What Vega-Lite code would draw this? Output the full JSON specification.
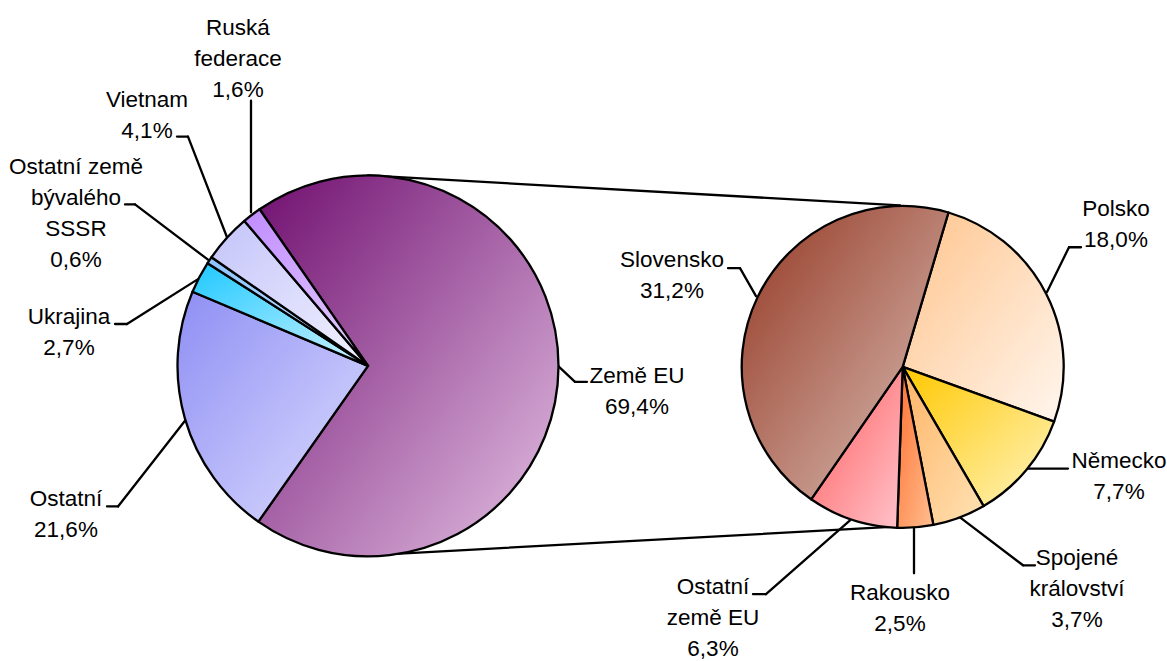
{
  "$schema": "https://vega.github.io/schema/vega-lite/v6.json",
  "width": 1167,
  "height": 661,
  "autosize": {"type": "fit", "contains": "padding"},
  "padding": 0,
  "background": "white",
  "config": {"view": {"stroke": null}},
  "datasets": {
    "celkem": [
      {"zeme": "Země EU", "podil": 69.4},
      {"zeme": "Ostatní", "podil": 21.6},
      {"zeme": "Ukrajina", "podil": 2.7},
      {"zeme": "Ostatní země bývalého SSSR", "podil": 0.6},
      {"zeme": "Vietnam", "podil": 4.1},
      {"zeme": "Ruská federace", "podil": 1.6}
    ],
    "eu": [
      {"zeme": "Polsko", "podil": 18.0},
      {"zeme": "Německo", "podil": 7.7},
      {"zeme": "Spojené království", "podil": 3.7},
      {"zeme": "Rakousko", "podil": 2.5},
      {"zeme": "Ostatní země EU", "podil": 6.3},
      {"zeme": "Slovensko", "podil": 31.2}
    ],
    "cary": [
      {"x": 368, "y": 176, "x2": 900, "y2": 206},
      {"x": 368, "y": 557, "x2": 900, "y2": 528},
      {"x": 251, "y": 101, "x2": 251, "y2": 213},
      {"x": 177, "y": 137, "x2": 188, "y2": 137},
      {"x": 188, "y": 137, "x2": 227, "y2": 238},
      {"x": 125, "y": 205, "x2": 135, "y2": 205},
      {"x": 135, "y": 205, "x2": 210, "y2": 262},
      {"x": 115, "y": 325, "x2": 127, "y2": 325},
      {"x": 127, "y": 325, "x2": 198, "y2": 280},
      {"x": 107, "y": 508, "x2": 118, "y2": 508},
      {"x": 118, "y": 508, "x2": 185, "y2": 422},
      {"x": 558, "y": 367, "x2": 575, "y2": 383},
      {"x": 575, "y": 383, "x2": 587, "y2": 383},
      {"x": 728, "y": 269, "x2": 740, "y2": 269},
      {"x": 740, "y": 269, "x2": 756, "y2": 297},
      {"x": 1081, "y": 248, "x2": 1069, "y2": 248},
      {"x": 1069, "y": 248, "x2": 1047, "y2": 293},
      {"x": 1027, "y": 470, "x2": 1068, "y2": 470},
      {"x": 960, "y": 519, "x2": 1023, "y2": 567},
      {"x": 1023, "y": 567, "x2": 1035, "y2": 567},
      {"x": 914, "y": 528, "x2": 914, "y2": 575},
      {"x": 753, "y": 596, "x2": 766, "y2": 596},
      {"x": 766, "y": 596, "x2": 850, "y2": 522}
    ],
    "popisky": [
      {"text": ["Ruská", "federace", "1,6%"], "x": 238, "y": 35},
      {"text": ["Vietnam", "4,1%"], "x": 147, "y": 107},
      {"text": ["Ostatní země", "bývalého", "SSSR", "0,6%"], "x": 76, "y": 175},
      {"text": ["Ukrajina", "2,7%"], "x": 69, "y": 325},
      {"text": ["Ostatní", "21,6%"], "x": 66, "y": 508},
      {"text": ["Země EU", "69,4%"], "x": 637, "y": 384},
      {"text": ["Slovensko", "31,2%"], "x": 672, "y": 268},
      {"text": ["Polsko", "18,0%"], "x": 1116, "y": 217},
      {"text": ["Německo", "7,7%"], "x": 1119, "y": 469},
      {"text": ["Spojené", "království", "3,7%"], "x": 1077, "y": 567},
      {"text": ["Rakousko", "2,5%"], "x": 900, "y": 602},
      {"text": ["Ostatní", "země EU", "6,3%"], "x": 713, "y": 596}
    ]
  },
  "resolve": {"scale": {"theta": "independent"}},
  "layer": [
    {
      "data": {"name": "cary"},
      "mark": {"type": "rule", "color": "black", "strokeWidth": 2.3, "strokeCap": "round"},
      "encoding": {
        "x": {"field": "x", "type": "quantitative", "scale": {"domain": [0, 1167], "nice": false, "zero": false}, "axis": null},
        "y": {"field": "y", "type": "quantitative", "scale": {"domain": [0, 661], "nice": false, "zero": false, "reverse": true}, "axis": null},
        "x2": {"field": "x2"},
        "y2": {"field": "y2"}
      }
    },
    {
      "data": {"name": "celkem"},
      "transform": [{"window": [{"op": "row_number", "as": "poradi"}]}],
      "mark": {"type": "arc", "outerRadius": 190.5, "stroke": "black", "strokeWidth": 2.3, "strokeJoin": "round"},
      "encoding": {
        "x": {"datum": 368, "type": "quantitative", "scale": {"domain": [0, 1167], "nice": false, "zero": false}, "axis": null},
        "y": {"datum": 367, "type": "quantitative", "scale": {"domain": [0, 661], "nice": false, "zero": false, "reverse": true}, "axis": null},
        "theta": {"field": "podil", "type": "quantitative", "stack": true, "scale": {"domain": [0, 100], "range": [-0.6056, 5.6776]}},
        "order": {"field": "poradi"},
        "color": {
          "condition": [
            {"test": "datum.zeme === 'Země EU'", "value": {"gradient": "linear", "x1": 0, "y1": 0, "x2": 1, "y2": 1, "stops": [{"offset": 0, "color": "#700F70"}, {"offset": 1, "color": "#E4C2E4"}]}},
            {"test": "datum.zeme === 'Ostatní'", "value": {"gradient": "linear", "x1": 0, "y1": 0, "x2": 1, "y2": 1, "stops": [{"offset": 0, "color": "#8E8EF4"}, {"offset": 1, "color": "#DEDEFF"}]}},
            {"test": "datum.zeme === 'Ukrajina'", "value": {"gradient": "linear", "x1": 0, "y1": 0, "x2": 1, "y2": 1, "stops": [{"offset": 0, "color": "#1EC8FF"}, {"offset": 1, "color": "#D0F4FF"}]}},
            {"test": "datum.zeme === 'Ostatní země bývalého SSSR'", "value": {"gradient": "linear", "x1": 0, "y1": 0, "x2": 1, "y2": 1, "stops": [{"offset": 0, "color": "#8CC4FF"}, {"offset": 1, "color": "#C8E4FF"}]}},
            {"test": "datum.zeme === 'Vietnam'", "value": {"gradient": "linear", "x1": 0, "y1": 0, "x2": 1, "y2": 1, "stops": [{"offset": 0, "color": "#C4C4FA"}, {"offset": 1, "color": "#F2F2FF"}]}}
          ],
          "value": {"gradient": "linear", "x1": 0, "y1": 0, "x2": 1, "y2": 1, "stops": [{"offset": 0, "color": "#C08CFF"}, {"offset": 1, "color": "#E6D0FF"}]}
        }
      }
    },
    {
      "data": {"name": "eu"},
      "transform": [{"window": [{"op": "row_number", "as": "poradi"}]}],
      "mark": {"type": "arc", "outerRadius": 161, "stroke": "black", "strokeWidth": 2.3, "strokeJoin": "round"},
      "encoding": {
        "x": {"datum": 902.7, "type": "quantitative", "scale": {"domain": [0, 1167], "nice": false, "zero": false}, "axis": null},
        "y": {"datum": 368, "type": "quantitative", "scale": {"domain": [0, 661], "nice": false, "zero": false, "reverse": true}, "axis": null},
        "theta": {"field": "podil", "type": "quantitative", "stack": true, "scale": {"domain": [0, 69.4], "range": [0.288, 6.5712]}},
        "order": {"field": "poradi"},
        "color": {
          "condition": [
            {"test": "datum.zeme === 'Polsko'", "value": {"gradient": "linear", "x1": 0, "y1": 0, "x2": 1, "y2": 1, "stops": [{"offset": 0, "color": "#FFC48C"}, {"offset": 1, "color": "#FFF6EE"}]}},
            {"test": "datum.zeme === 'Německo'", "value": {"gradient": "linear", "x1": 0, "y1": 0, "x2": 1, "y2": 1, "stops": [{"offset": 0, "color": "#FFC800"}, {"offset": 1, "color": "#FFF4C0"}]}},
            {"test": "datum.zeme === 'Spojené království'", "value": {"gradient": "linear", "x1": 0, "y1": 0, "x2": 1, "y2": 1, "stops": [{"offset": 0, "color": "#FFB466"}, {"offset": 1, "color": "#FFE2B4"}]}},
            {"test": "datum.zeme === 'Rakousko'", "value": {"gradient": "linear", "x1": 0, "y1": 0, "x2": 1, "y2": 1, "stops": [{"offset": 0, "color": "#FF7030"}, {"offset": 1, "color": "#FFBE90"}]}},
            {"test": "datum.zeme === 'Ostatní země EU'", "value": {"gradient": "linear", "x1": 0, "y1": 0, "x2": 1, "y2": 1, "stops": [{"offset": 0, "color": "#FF5A5A"}, {"offset": 1, "color": "#FFC4CC"}]}}
          ],
          "value": {"gradient": "linear", "x1": 0, "y1": 0, "x2": 1, "y2": 1, "stops": [{"offset": 0, "color": "#943722"}, {"offset": 1, "color": "#DCC4BC"}]}
        }
      }
    },
    {
      "data": {"name": "popisky"},
      "mark": {"type": "text", "align": "center", "baseline": "alphabetic", "font": "Liberation Sans", "fontSize": 22.5, "lineHeight": 31, "color": "black"},
      "encoding": {
        "x": {"field": "x", "type": "quantitative", "scale": {"domain": [0, 1167], "nice": false, "zero": false}, "axis": null},
        "y": {"field": "y", "type": "quantitative", "scale": {"domain": [0, 661], "nice": false, "zero": false, "reverse": true}, "axis": null},
        "text": {"field": "text"}
      }
    }
  ]
}
